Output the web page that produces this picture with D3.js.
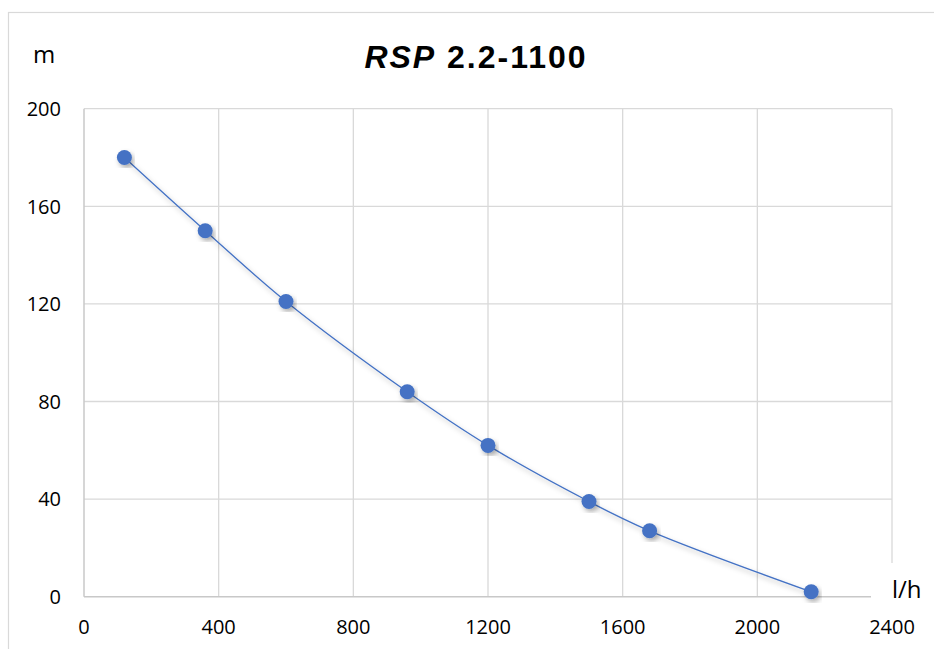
<!DOCTYPE html>
<html><head><meta charset="utf-8">
<script src="https://cdn.jsdelivr.net/npm/d3@7"></script>
<style>html,body{margin:0;padding:0;background:#fff;}svg{display:block;}</style>
</head><body>
<svg id="c" width="934" height="649"></svg>
<script>
const flow = [120, 360, 600, 960, 1200, 1500, 1680, 2160];
const head = [180, 150, 121, 84, 62, 39, 27, 2];
const xTicks = [0, 400, 800, 1200, 1600, 2000, 2400];
const yTicks = [0, 40, 80, 120, 160, 200];

const svg = d3.select("#c");
const L = 84, R = 892, T = 108.7, B = 596.7;
const x = d3.scaleLinear().domain([0, 2400]).range([L, R]);
const y = d3.scaleLinear().domain([0, 200]).range([B, T]);
const font = "'Open Sans', sans-serif";

const defs = svg.append("defs");
const f = defs.append("filter").attr("id", "sh").attr("x", "-20%").attr("y", "-20%").attr("width", "140%").attr("height", "140%");
f.append("feDropShadow").attr("dx", 2).attr("dy", 3).attr("stdDeviation", 2.5).attr("flood-color", "#000").attr("flood-opacity", 0.3);

svg.append("rect").attr("x", 8.5).attr("y", 12.5).attr("width", 940).attr("height", 660)
  .attr("fill", "#fff").attr("stroke", "#d9d9d9").attr("stroke-width", 1.2);

// gridlines
svg.append("g").selectAll("line").data(xTicks.slice(1)).join("line")
  .attr("x1", d => x(d)).attr("x2", d => x(d)).attr("y1", T).attr("y2", B)
  .attr("stroke", "#d9d9d9").attr("stroke-width", 1.3);
svg.append("g").selectAll("line").data(yTicks.slice(1)).join("line")
  .attr("x1", L).attr("x2", R).attr("y1", d => y(d)).attr("y2", d => y(d))
  .attr("stroke", "#d9d9d9").attr("stroke-width", 1.3);
// axis lines
svg.append("line").attr("x1", L).attr("x2", L).attr("y1", T).attr("y2", B).attr("stroke", "#c8c8c8").attr("stroke-width", 1.5);
svg.append("line").attr("x1", L).attr("x2", R).attr("y1", B).attr("y2", B).attr("stroke", "#c8c8c8").attr("stroke-width", 1.5);

// tick labels
svg.append("g").selectAll("text").data(yTicks).join("text")
  .attr("x", 61).attr("y", d => y(d)).attr("dy", "0.36em").attr("text-anchor", "end")
  .attr("font-family", font).attr("font-size", 20).attr("fill", "#000").text(d => d);
svg.append("g").selectAll("text").data(xTicks).join("text")
  .attr("x", d => x(d)).attr("y", 627).attr("dy", "0.36em").attr("text-anchor", "middle")
  .attr("font-family", font).attr("font-size", 20).attr("fill", "#000").text(d => d);

// axis titles with white box
svg.append("rect").attr("x", 871).attr("y", 563).attr("width", 60).attr("height", 45).attr("fill", "#fff");
svg.append("text").attr("x", 892).attr("y", 598).attr("font-family", font).attr("font-size", 24).attr("fill", "#000").text("l/h");
svg.append("text").attr("x", 33).attr("y", 63).attr("font-family", font).attr("font-size", 24).attr("fill", "#000").text("m");

// title
const t = svg.append("text").attr("x", 476).attr("y", 67.5).attr("text-anchor", "middle")
  .attr("font-family", "'Liberation Sans', Arial, sans-serif").attr("font-size", 32).attr("font-weight", "bold")
  .attr("letter-spacing", 2).attr("fill", "#000");
t.append("tspan").attr("font-style", "italic").text("RSP");
t.append("tspan").text(" 2.2-1100");

// line + markers
const data = flow.map((d, i) => [d, head[i]]);
const line = d3.line().x(d => x(d[0])).y(d => y(d[1])).curve(d3.curveCatmullRom.alpha(0.5));
svg.append("path").datum(data).attr("d", line).attr("fill", "none")
  .attr("stroke", "#4472c4").attr("stroke-width", 1.3).attr("filter", "url(#sh)");
svg.append("g").selectAll("circle").data(data).join("circle")
  .attr("cx", d => x(d[0])).attr("cy", d => y(d[1])).attr("r", 7.5)
  .attr("fill", "#4472c4").attr("filter", "url(#sh)");
</script>
</body></html>
